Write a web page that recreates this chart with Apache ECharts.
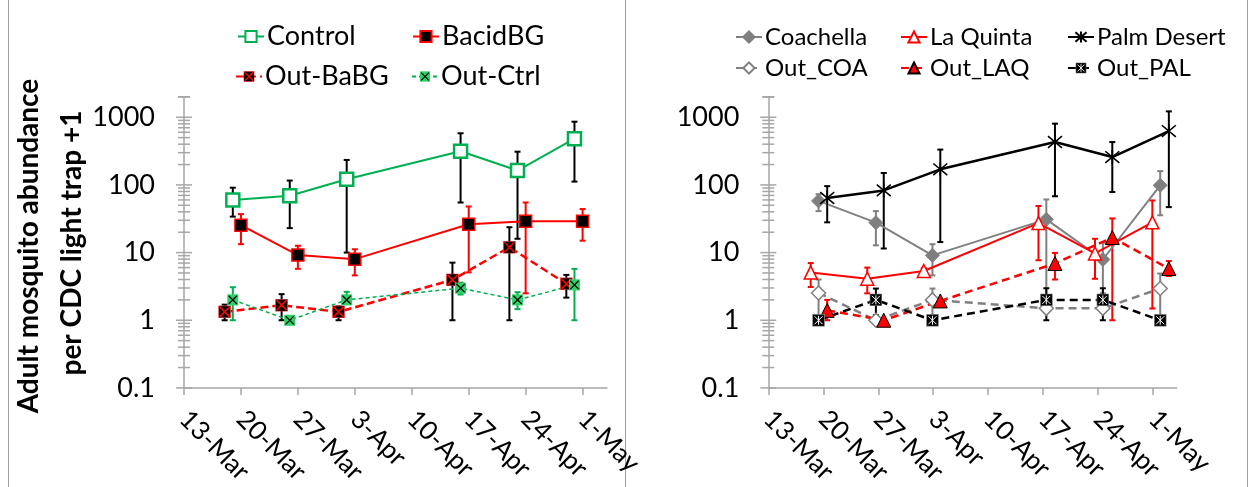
<!DOCTYPE html>
<html>
<head>
<meta charset="utf-8">
<script src="https://cdn.jsdelivr.net/npm/echarts@6/dist/echarts.min.js"></script>
<style>
  html, body { margin: 0; padding: 0; background: #fff; }
  #chart { width: 1250px; height: 487px; }
</style>
</head>
<body>
<div id="chart"></div>
<script>
// x values are days after 13-Mar
var xTickValues = [0, 7, 14, 21, 28, 35, 42, 49];
var xTickLabels = ['13-Mar', '20-Mar', '27-Mar', '3-Apr', '10-Apr', '17-Apr', '24-Apr', '1-May'];
var yTickValues = [0.1, 1, 10, 100, 1000];
var yTickLabels = ['0.1', '1', '10', '100', '1000'];

// left panel
var controlX = [6, 13, 20, 34, 41, 48];
var controlY = [60, 69, 121, 315, 163, 483];
var controlLo = [34, 23, 10, 55, 16, 112];
var controlHi = [91, 116, 234, 580, 310, 860];

var bacidX = [7, 14, 21, 35, 42, 49];
var bacidY = [25.4, 9.2, 8.0, 26.3, 29, 29];
var bacidLo = [13.3, 5.75, 4.6, 5.1, 2.5, 15];
var bacidHi = [37, 12.6, 11.2, 48, 55, 44];

var outBaX = [5, 12, 19, 33, 40, 47];
var outBaY = [1.33, 1.67, 1.33, 3.95, 12, 3.45];
var outBaLo = [1, 1, 1, 1, 1, 2.16];
var outBaHi = [1.7, 2.43, 1.6, 7.1, 23.7, 4.68];

var outCtrlX = [6, 13, 20, 34, 41, 48];
var outCtrlY = [2.0, 1.0, 2.0, 2.98, 2.0, 3.33];
var outCtrlLo = [1, 1, 1.75, 2.4, 1.46, 1];
var outCtrlHi = [3.08, 1, 2.63, 3.6, 2.6, 5.75];

// right panel
var laqX = [5.4, 12.6, 19.8, 34.4, 41.6, 48.9];
var laqY = [5.07, 4.1, 5.35, 27.3, 9.7, 28];
var laqLo = [3.1, 2.5, 4.9, 7.7, 4.1, 1.49];
var laqHi = [7, 6.0, 5.9, 48.8, 16, 59];

var coaX = [6.4, 13.7, 20.9, 35.4, 42.6, 49.9];
var coaY = [58, 27.7, 9.1, 31, 7.9, 98.6];
var coaLo = [41, 12.8, 4.6, 2.0, 2.5, 35.6];
var coaHi = [73, 41, 13.3, 61, 14, 160];

var palX = [7.5, 14.7, 21.9, 36.5, 43.8, 51.0];
var palY = [64, 83, 170, 430, 258, 625];
var palLo = [28, 11.5, 14.3, 68, 78.5, 47];
var palHi = [96, 150, 333, 805, 430, 1222];

var outCoaY = [2.53, 1.0, 2.0, 1.5, 1.5, 2.94];
var outCoaLo = [1, 1, 1, 1.3, 1.3, 1];
var outCoaHi = [4, 1, 2.94, 1.7, 1.7, 4.9];

var outLaqY = [1.4, 1.0, 1.93, 6.9, 16.7, 5.8];
var outLaqLo = [1, 1, 1.93, 4.0, 1, 4.5];
var outLaqHi = [2.0, 1, 1.93, 9.9, 32, 7.5];

var outPalY = [1, 2, 1, 2, 2, 1];
var outPalLo = [1, 1.19, 1, 1, 1, 1];
var outPalHi = [1, 2.94, 1, 2.97, 2.97, 1];

var GREEN = '#00b050', RED = '#ff0000', GRAY = '#808080', AXIS = '#a6a6a6';
var FONT = 'Lato';

function svgSymbol(svg) {
  return 'image://data:image/svg+xml;charset=utf-8,' + encodeURIComponent(svg);
}
var symOutBa = svgSymbol("<svg xmlns='http://www.w3.org/2000/svg' width='26' height='26' viewBox='0 0 26 26'><rect x='1' y='1' width='24' height='24' fill='#000' stroke='#ff4040' stroke-width='1.5'/><path d='M3 3L23 23M23 3L3 23' stroke='#ff0000' stroke-width='3.2'/></svg>");
var symOutCtrl = svgSymbol("<svg xmlns='http://www.w3.org/2000/svg' width='26' height='26' viewBox='0 0 26 26'><rect x='1' y='1' width='24' height='24' fill='#2ed067'/><path d='M4 4L22 22M22 4L4 22' stroke='#000' stroke-width='2.5'/></svg>");
var symOutPal = svgSymbol("<svg xmlns='http://www.w3.org/2000/svg' width='26' height='26' viewBox='0 0 26 26'><rect x='1' y='1' width='24' height='24' fill='#000' stroke='#999' stroke-width='1.5'/><path d='M5 5L21 21M21 5L5 21M13 4L13 22' stroke='#fff' stroke-width='2'/></svg>");
var symStar = 'path://M0,0L10,10M10,0L0,10M5,-1L5,11';

function pts(xs, ys) {
  return xs.map(function (x, i) { return [x, ys[i]]; });
}

function lineSeries(name, gi, xs, ys, o) {
  return {
    type: 'line', name: name, xAxisIndex: gi, yAxisIndex: gi, z: 3,
    data: pts(xs, ys),
    symbol: o.symbol, symbolSize: o.size || 13, showAllSymbol: true,
    itemStyle: o.item,
    lineStyle: { color: o.color, width: o.width || 2, type: o.dash || 'solid' },
    emphasis: { disabled: true }
  };
}

function errSeries(gi, xs, lo, hi, color) {
  return {
    type: 'custom', xAxisIndex: gi, yAxisIndex: gi, z: 1, silent: true,
    data: xs.map(function (x, i) { return [x, lo[i], hi[i]]; }),
    encode: { x: 0, y: [1, 2] },
    renderItem: function (params, api) {
      var a = api.coord([api.value(0), api.value(1)]);
      var b = api.coord([api.value(0), api.value(2)]);
      var st = { stroke: color, lineWidth: 2 };
      return {
        type: 'group', children: [
          { type: 'line', shape: { x1: a[0], y1: a[1], x2: b[0], y2: b[1] }, style: st },
          { type: 'line', shape: { x1: a[0] - 3, y1: a[1], x2: a[0] + 3, y2: a[1] }, style: st },
          { type: 'line', shape: { x1: b[0] - 3, y1: b[1], x2: b[0] + 3, y2: b[1] }, style: st }
        ]
      };
    }
  };
}

// crossing major / minor ticks of the log axes
var yTicks = [];
[0.1, 1, 10, 100, 1000].forEach(function (d) {
  for (var m = 1; m <= 9; m++) {
    var v = m * d;
    if (v <= 2000) yTicks.push([0, v, m === 1 ? 1 : 0]);
  }
});
yTicks.push([0, 2000, 0]);

function tickSeries(gi) {
  return {
    type: 'custom', xAxisIndex: gi, yAxisIndex: gi, z: 1, silent: true,
    data: yTicks, encode: { x: 0, y: 1 },
    renderItem: function (params, api) {
      var p = api.coord([0, api.value(1)]);
      var len = api.value(2) ? 8 : 6;
      return { type: 'line', shape: { x1: p[0] - len, y1: p[1], x2: p[0] + len, y2: p[1] },
        style: { stroke: AXIS, lineWidth: 1.5 } };
    }
  };
}

function xAxis(gi) {
  return {
    type: 'value', gridIndex: gi, min: 0, max: 52, interval: 7,
    splitLine: { show: false },
    axisLine: { lineStyle: { color: AXIS, width: 1.5 } },
    axisTick: { length: 7, lineStyle: { color: AXIS, width: 1.5 }, customValues: xTickValues },
    axisLabel: {
      customValues: xTickValues, rotate: -45, margin: 27,
      color: '#000', fontFamily: FONT, fontSize: 26,
      formatter: function (v) { var i = xTickValues.indexOf(v); return i < 0 ? '' : xTickLabels[i]; }
    }
  };
}

function yAxis(gi) {
  return {
    type: 'log', logBase: 10, gridIndex: gi, min: 0.1, max: 2000,
    splitLine: { show: false },
    axisLine: { show: true, lineStyle: { color: AXIS, width: 1.5 } },
    axisTick: { show: false },
    axisLabel: {
      customValues: yTickValues, margin: 29,
      color: '#000', fontFamily: FONT, fontSize: 27,
      formatter: function (v) {
        for (var i = 0; i < yTickValues.length; i++) {
          if (Math.abs(v - yTickValues[i]) < yTickValues[i] * 1e-6) return yTickLabels[i];
        }
        return '';
      }
    }
  };
}

function leg(name, x, y, size) {
  return {
    data: [name], left: x, top: y, padding: 0, orient: 'horizontal',
    itemWidth: 26, itemHeight: 14, selectedMode: false,
    textStyle: { fontFamily: FONT, fontSize: size, color: '#000', padding: [0, 0, 0, -2] }
  };
}

var chart = echarts.init(document.getElementById('chart'));
chart.setOption({
  animation: false,
  backgroundColor: '#fff',
  grid: [
    { left: 184, top: 96.9, width: 423, height: 291.2 },
    { left: 768.3, top: 96.9, width: 408.4, height: 291.2 }
  ],
  xAxis: [xAxis(0), xAxis(1)],
  yAxis: [yAxis(0), yAxis(1)],
  legend: [
    leg('Control', 237, 23, 27), leg('BacidBG', 412, 23, 27),
    leg('Out-BaBG', 235, 63, 27), leg('Out-Ctrl', 411, 63, 27),
    leg('Coachella', 735, 25, 24), leg('La Quinta', 900, 25, 24), leg('Palm Desert', 1067, 25, 24),
    leg('Out_COA', 735, 56, 24), leg('Out_LAQ', 900, 56, 24), leg('Out_PAL', 1067, 56, 24)
  ],
  graphic: [
    { type: 'line', shape: { x1: 8.5, y1: 0, x2: 8.5, y2: 487 }, style: { stroke: '#a0a0a0', lineWidth: 1 } },
    { type: 'line', shape: { x1: 625.5, y1: 0, x2: 625.5, y2: 487 }, style: { stroke: '#a0a0a0', lineWidth: 1 } },
    { type: 'line', shape: { x1: 1247.5, y1: 0, x2: 1247.5, y2: 487 }, style: { stroke: '#a0a0a0', lineWidth: 1 } },
    { type: 'text', x: 29, y: 246, rotation: Math.PI / 2,
      style: { text: 'Adult mosquito abundance', font: 'bold 28px Lato', fill: '#000', align: 'center', verticalAlign: 'middle' } },
    { type: 'text', x: 72, y: 243, rotation: Math.PI / 2,
      style: { text: 'per CDC light trap +1', font: 'bold 28px Lato', fill: '#000', align: 'center', verticalAlign: 'middle' } }
  ],
  series: [
    tickSeries(0), tickSeries(1),
    errSeries(0, controlX, controlLo, controlHi, '#000'),
    errSeries(0, bacidX, bacidLo, bacidHi, RED),
    errSeries(0, outBaX, outBaLo, outBaHi, '#000'),
    errSeries(0, outCtrlX, outCtrlLo, outCtrlHi, GREEN),
    lineSeries('Control', 0, controlX, controlY, { symbol: 'rect', size: 13, color: GREEN,
      item: { color: '#fff', borderColor: GREEN, borderWidth: 2.5 } }),
    lineSeries('BacidBG', 0, bacidX, bacidY, { symbol: 'rect', size: 12, color: RED,
      item: { color: '#000', borderColor: RED, borderWidth: 1.5 } }),
    lineSeries('Out-BaBG', 0, outBaX, outBaY, { symbol: symOutBa, size: 13, color: RED, width: 2.5, dash: [8, 4],
      item: { color: '#000' } }),
    lineSeries('Out-Ctrl', 0, outCtrlX, outCtrlY, { symbol: symOutCtrl, size: 12, color: GREEN, width: 1.5, dash: [4, 3],
      item: { color: '#2ed067' } }),

    errSeries(1, coaX, coaLo, coaHi, GRAY),
    errSeries(1, laqX, laqLo, laqHi, RED),
    errSeries(1, palX, palLo, palHi, '#000'),
    errSeries(1, coaX, outCoaLo, outCoaHi, GRAY),
    errSeries(1, palX, outLaqLo, outLaqHi, RED),
    errSeries(1, coaX, outPalLo, outPalHi, '#000'),
    lineSeries('Coachella', 1, coaX, coaY, { symbol: 'diamond', size: 14, color: GRAY,
      item: { color: '#7f7f7f', borderColor: '#7f7f7f', borderWidth: 1 } }),
    lineSeries('La Quinta', 1, laqX, laqY, { symbol: 'triangle', size: 13, color: RED,
      item: { color: '#fff', borderColor: RED, borderWidth: 1.5 } }),
    lineSeries('Palm Desert', 1, palX, palY, { symbol: symStar, size: 14, color: '#000', width: 2.5,
      item: { color: 'rgba(0,0,0,0)', borderColor: '#000', borderWidth: 1.6 } }),
    lineSeries('Out_COA', 1, coaX, outCoaY, { symbol: 'diamond', size: 14, color: GRAY, width: 2.5, dash: [8, 5],
      item: { color: '#fff', borderColor: GRAY, borderWidth: 1.5 } }),
    lineSeries('Out_LAQ', 1, palX, outLaqY, { symbol: 'triangle', size: 14, color: RED, width: 2.5, dash: [8, 5],
      item: { color: RED, borderColor: '#000', borderWidth: 1 } }),
    lineSeries('Out_PAL', 1, coaX, outPalY, { symbol: symOutPal, size: 13, color: '#000', width: 2.5, dash: [8, 5],
      item: { color: '#000' } })
  ]
});
</script>
</body>
</html>
